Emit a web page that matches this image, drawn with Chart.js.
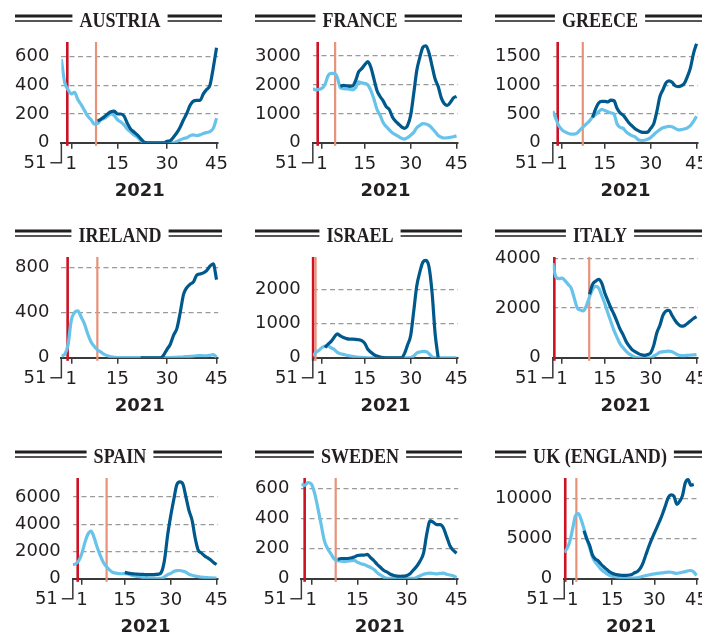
<!DOCTYPE html>
<html>
<head>
<meta charset="utf-8">
<script src="https://cdn.jsdelivr.net/npm/chart.js@4.4.0/dist/chart.umd.min.js"></script>
<style>
  html, body { margin: 0; padding: 0; background: #fff; width: 702px; height: 636px; overflow: hidden; position: relative; }
  canvas { position: absolute; }
</style>
</head>
<body>
<script>
// weeks: 51-53 of 2020, then 1-45 of 2021
const weeks = ['51','52','53','1','2','3','4','5','6','7','8','9','10','11','12','13','14','15','16','17','18','19','20',
  '21','22','23','24','25','26','27','28','29','30','31','32','33','34','35','36','37','38','39','40','41','42','43','44','45'];
const xTickWeeks = [1, 15, 30, 45];

const countries = ['AUSTRIA', 'FRANCE', 'GREECE', 'IRELAND', 'ISRAEL', 'ITALY', 'SPAIN', 'SWEDEN', 'UK (ENGLAND)'];
const yTicks = [
  [0, 200, 400, 600], [0, 1000, 2000, 3000], [0, 500, 1000, 1500],
  [0, 400, 800], [0, 1000, 2000], [0, 2000, 4000],
  [0, 2000, 4000, 6000], [0, 200, 400, 600], [0, 5000, 10000]
];
const yMax = [700, 3480, 1750, 890, 2940, 4050, 7400, 670, 12600];
// red and orange markers, as week positions (0 = week 53 of 2020)
const redWeek = [-0.2, -0.4, -0.4, -0.1, -1.9, -1.5, -0.4, -1.0, -1.65];
const orangeWeek = [8.5, 5.3, 7.8, 8.9, -1.1, 9.9, 9.05, 8.4, 2.3];

const austriaDark = [null,null,null,null,null,null,null,null,null,null,null,150,165,180,200,215,220,200,200,185,135,95,75,55,30,5,0,0,0,0,0,0,10,15,40,70,110,160,205,260,290,295,295,340,370,400,520,660];
const austriaLight = [580,420,370,340,350,300,265,225,185,160,130,135,160,170,185,200,190,160,145,125,95,75,55,40,15,3,0,0,0,0,0,0,0,0,0,10,20,30,35,50,55,50,55,65,72,78,100,170];

const franceDark = [null,null,null,null,null,null,null,null,null,1950,1980,1970,1950,1960,2150,2450,2560,2700,2800,2600,2200,1800,1600,1450,1250,1150,900,750,650,550,500,600,950,1700,2500,2950,3300,3350,3100,2650,2200,1940,1550,1350,1290,1400,1550,1600];
const franceLight = [1870,1820,1850,1880,2020,2320,2400,2400,2260,1900,1870,1860,1850,1830,1900,2100,2070,2050,2000,1800,1500,1150,950,700,560,450,350,280,220,160,130,180,260,360,520,600,660,650,600,500,380,250,190,165,175,190,210,240];

const greeceDark = [null,null,null,null,null,null,null,null,null,null,null,null,null,440,590,690,720,720,710,740,730,600,520,480,410,340,290,240,210,185,180,185,250,330,540,800,920,1040,1075,1050,990,975,990,1030,1150,1300,1550,1720];
const greeceLight = [550,420,290,225,190,165,150,150,170,230,280,330,380,450,490,540,580,560,540,520,500,330,270,250,190,150,120,100,50,40,45,60,90,140,190,230,260,275,285,280,250,225,230,240,260,300,370,460];

const irelandDark = [null,null,null,null,null,null,null,null,null,null,null,null,null,null,null,null,null,null,null,null,null,null,null,null,0,0,0,0,0,0,0,25,75,120,200,260,400,560,620,650,670,730,740,750,770,810,830,690];
const irelandLight = [15,30,110,330,400,415,360,300,210,140,100,70,50,30,18,8,5,2,2,2,2,2,2,2,2,2,2,2,2,2,2,2,2,2,3,5,6,8,10,12,15,18,20,18,18,22,28,5];

const israelDark = [null,null,null,null,300,400,480,600,700,640,590,560,545,545,540,525,500,420,250,160,90,50,20,5,0,0,0,0,0,0,130,380,650,1360,2100,2500,2790,2840,2650,1900,700,0,null,null,null,null,null,null];
const israelLight = [60,150,220,300,340,350,290,240,160,120,100,75,55,40,25,15,10,5,0,0,0,0,0,0,0,0,0,0,0,0,0,0,5,50,140,170,185,180,120,30,0,0,0,0,0,0,0,0];

const italyDark = [null,null,null,null,null,null,null,null,null,null,null,null,2550,2950,3080,3150,3000,2600,2300,2000,1750,1450,1150,920,650,470,320,240,170,120,100,130,200,500,1000,1300,1700,1880,1910,1700,1500,1350,1270,1290,1380,1480,1580,1650];
const italyLight = [3800,3250,3180,3200,3100,2950,2800,2400,2000,1920,1880,2100,2450,2750,2870,2800,2500,2180,1800,1450,1100,820,560,400,255,150,80,20,0,0,0,0,0,70,140,220,240,260,270,240,180,110,90,90,100,110,115,130];

const spainDark = [null,null,null,null,null,null,null,null,null,null,null,null,null,null,null,null,null,470,420,380,360,340,330,320,310,300,300,320,340,500,1400,3200,4600,5800,6900,7120,6950,6000,5000,4300,3000,2100,1900,1700,1550,1400,1200,1050];
const spainLight = [1030,1100,1350,1900,2700,3300,3500,3000,2300,1700,1200,900,660,480,420,380,370,380,360,280,220,170,150,100,80,50,50,50,30,30,150,300,400,530,600,610,560,480,330,260,200,160,120,100,80,75,60,50];

const swedenDark = [null,null,null,null,null,null,null,null,null,null,null,130,135,135,135,138,145,155,158,158,162,140,120,95,75,55,44,30,22,18,17,18,22,35,60,85,120,170,300,385,375,360,360,340,280,220,190,170];
const swedenLight = [630,620,640,630,570,470,360,250,200,165,130,120,118,115,118,120,122,110,100,95,85,75,62,40,25,10,3,3,3,3,3,3,3,3,3,10,20,30,35,38,35,33,36,38,30,25,20,8];

const ukDark = [null,null,null,null,null,null,null,6000,5000,4200,3000,2500,2250,1850,1500,1200,900,700,560,500,450,420,430,470,550,750,900,1300,2000,3000,4000,4900,5700,6500,7300,8200,9200,10200,10500,10300,9300,9700,10400,12000,12400,11700,11800,null];
const ukLight = [3300,3800,4700,6300,7900,8150,7400,6250,5000,3900,2750,2100,1650,1200,900,650,450,330,250,200,160,130,110,90,80,100,125,220,320,400,480,560,620,670,720,750,800,830,820,740,670,750,820,900,1000,1040,850,420];

const darkSeries = [austriaDark, franceDark, greeceDark, irelandDark, israelDark, italyDark, spainDark, swedenDark, ukDark];
const lightSeries = [austriaLight, franceLight, greeceLight, irelandLight, israelLight, italyLight, spainLight, swedenLight, ukLight];

const xPos = weeks.map((w, i) => i - 2);

const INK = '#231f20';
const TICK_FONT = { family: '"DejaVu Sans", sans-serif', size: 18 };

const panelDecor = {
  id: 'panelDecor',
  beforeDatasetsDraw(chart, args, opts) {
    const { ctx, chartArea: a, scales: { x } } = chart;
    [[opts.red, '#cc1224', 2.6], [opts.orange, '#e8927a', 2.2]].forEach(([w, c, lw]) => {
      const px = x.getPixelForValue(w);
      ctx.save();
      ctx.strokeStyle = c;
      ctx.lineWidth = lw;
      ctx.beginPath();
      ctx.moveTo(px, a.top);
      ctx.lineTo(px, a.bottom + 3);
      ctx.stroke();
      ctx.restore();
    });
  },
  afterDraw(chart, args, opts) {
    const { ctx, chartArea: a } = chart;
    // country title, condensed serif with double rules
    const sx = 0.82, cx = 117, base = 27;
    ctx.save();
    ctx.font = 'bold 22px "Liberation Serif", serif';
    const tw = ctx.measureText(opts.title).width * sx;
    ctx.translate(cx, base);
    ctx.scale(sx, 1);
    ctx.fillStyle = INK;
    ctx.textAlign = 'center';
    ctx.textBaseline = 'alphabetic';
    ctx.fillText(opts.title, 0, 0);
    ctx.restore();
    const l0 = 12, l1 = cx - tw / 2 - 7, r0 = cx + tw / 2 + 7, r1 = 219;
    ctx.save();
    ctx.fillStyle = INK;
    ctx.fillRect(l0, 14.5, l1 - l0, 3);
    ctx.fillRect(r0, 14.5, r1 - r0, 3);
    ctx.fillStyle = '#555';
    ctx.fillRect(l0, 20, l1 - l0, 2);
    ctx.fillRect(r0, 20, r1 - r0, 2);
    // "51" bracket at the axis start
    ctx.strokeStyle = '#3a3a3a';
    ctx.lineWidth = 1.5;
    ctx.beginPath();
    ctx.moveTo(a.left, a.bottom);
    ctx.lineTo(a.left, a.bottom + 20);
    ctx.lineTo(a.left - 11, a.bottom + 20);
    ctx.stroke();
    ctx.font = '18px "DejaVu Sans", sans-serif';
    ctx.fillStyle = INK;
    ctx.textAlign = 'right';
    ctx.textBaseline = 'middle';
    ctx.fillText(weeks[0], a.left - 15, a.bottom + 21);
    ctx.restore();
  }
};

const rowTop = [0, 215, 436];
const W = 230, H = 202;

countries.forEach((name, i) => {
  const col = i % 3, row = Math.floor(i / 3);
  const cv = document.createElement('canvas');
  cv.width = W; cv.height = H;
  cv.style.left = (col * 240 + 3) + 'px';
  cv.style.top = rowTop[row] + 'px';
  cv.style.width = W + 'px'; cv.style.height = H + 'px';
  document.body.appendChild(cv);

  new Chart(cv, {
    type: 'line',
    data: {
      labels: xPos,
      datasets: [
        { data: darkSeries[i], borderColor: '#00598c', borderWidth: 3.2, pointRadius: 0,
          cubicInterpolationMode: 'monotone', spanGaps: false, fill: false },
        { data: lightSeries[i], borderColor: '#68c3ea', borderWidth: 3.2, pointRadius: 0,
          cubicInterpolationMode: 'monotone', spanGaps: false, fill: false }
      ]
    },
    plugins: [panelDecor],
    options: {
      responsive: false,
      animation: false,
      devicePixelRatio: 1,
      layout: { padding: { top: 42, left: 0, right: 0, bottom: 0 } },
      plugins: {
        legend: { display: false },
        tooltip: { enabled: false },
        panelDecor: { title: name, red: redWeek[i], orange: orangeWeek[i] }
      },
      scales: {
        x: {
          type: 'linear',
          min: -2,
          max: 45.5,
          afterBuildTicks: ax => { ax.ticks = xTickWeeks.map(v => ({ value: v })); },
          border: { display: true, color: '#3a3a3a', width: 2 },
          grid: { drawOnChartArea: false, drawTicks: true, tickLength: 6, color: '#3a3a3a', lineWidth: 1.5 },
          ticks: { padding: 5, color: INK, font: TICK_FONT, maxRotation: 0, autoSkip: false,
                   callback: v => weeks[v + 2] },
          title: { display: true, text: '2021', color: INK,
                   font: { family: '"DejaVu Sans", sans-serif', size: 18, weight: 'bold' },
                   padding: { top: 0, bottom: 0 } }
        },
        y: {
          min: 0,
          max: yMax[i],
          afterBuildTicks: ax => { ax.ticks = yTicks[i].map(v => ({ value: v })); },
          border: { display: false, dash: [5, 3.5] },
          grid: { drawTicks: false, lineWidth: 1.3,
                  color: c => (c.tick && c.tick.value === 0) ? 'rgba(0,0,0,0)' : '#9a9a9a' },
          ticks: { padding: 12, color: INK, font: TICK_FONT, callback: v => String(v) }
        }
      }
    }
  });
});
</script>
</body>
</html>
